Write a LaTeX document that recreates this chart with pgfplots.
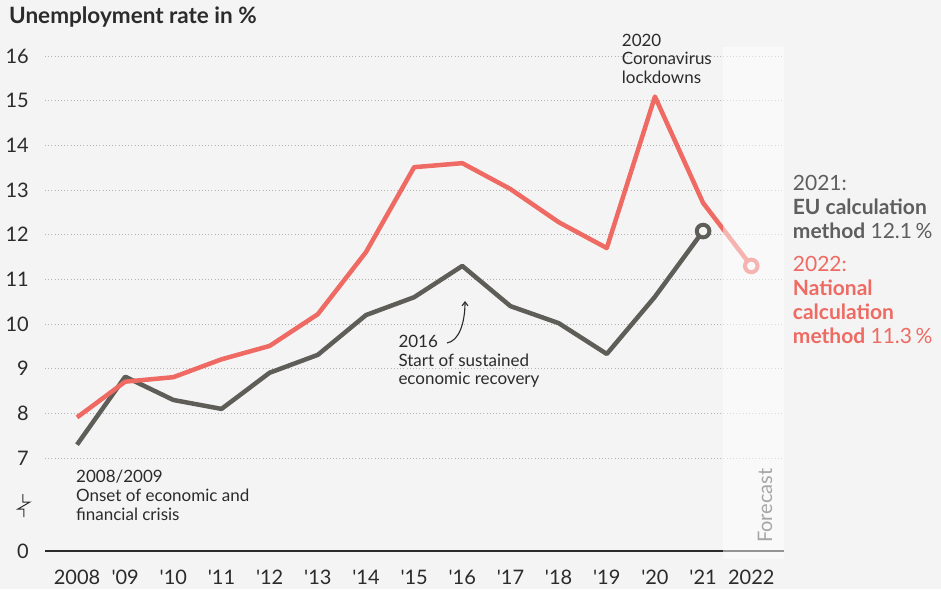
\documentclass[border=0pt]{standalone}
\usepackage{fontspec}
\setmainfont{Lato}
\newfontfamily\plainfont{Lato}
\usepackage{pgfplots}
\pgfplotsset{compat=1.18}
\usetikzlibrary{arrows.meta}
\definecolor{bg}{HTML}{F4F4F4}
\definecolor{fcbg}{HTML}{F9F9F9}
\definecolor{myred}{HTML}{EE6A62}
\definecolor{mypink}{HTML}{F6B4B0}
\definecolor{mygray}{HTML}{5E5D58}
\definecolor{txt}{HTML}{2B2B2B}
\definecolor{gridc}{HTML}{B4B4B4}
\definecolor{labgray}{HTML}{5E5E5E}
\begin{document}
\begin{tikzpicture}[x=1pt,y=1pt]
\useasboundingbox (-45,-38) rectangle (896,551);
\fill[bg] (-45,-38) rectangle (896,551);
\begin{axis}[
  at={(0,0)}, anchor=south west,
  scale only axis, width=739pt, height=504pt,
  xmin=2007.335, xmax=2022.68, ymin=4.92, ymax=16.2,
  axis line style={draw=none}, tick style={draw=none},
  xtick={2008,2009,2010,2011,2012,2013,2014,2015,2016,2017,2018,2019,2020,2021,2022},
  xticklabels={2008,'09,'10,'11,'12,'13,'14,'15,'16,'17,'18,'19,'20,'21,2022},
  ytick={4.92,7,8,9,10,11,12,13,14,15,16},
  yticklabels={0,7,8,9,10,11,12,13,14,15,16},
  ymajorgrids,
  grid style={gridc, line width=0.8pt, dash pattern=on 0.8pt off 2.4pt},
  xticklabel style={font=\plainfont\fontsize{20}{24}\selectfont, text=txt, anchor=base, inner sep=0pt, yshift=-33pt},
  yticklabel style={font=\plainfont\fontsize{20}{24}\selectfont, text=txt, anchor=east, inner sep=0pt, xshift=-16pt},
  clip=false,
]
\addplot[mygray, line width=4.5pt, line join=round] coordinates {
 (2008,7.3)(2009,8.82)(2010,8.3)(2011,8.1)(2012,8.91)(2013,9.31)(2014,10.2)
 (2015,10.6)(2016,11.3)(2017,10.4)(2018,10.02)(2019,9.33)(2020,10.61)(2021,12.08)};
\addplot[myred, line width=4.5pt, line join=round] coordinates {
 (2008,7.91)(2009,8.71)(2010,8.81)(2011,9.21)(2012,9.51)(2013,10.22)(2014,11.61)
 (2015,13.51)(2016,13.6)(2017,13.02)(2018,12.28)(2019,11.7)(2020,15.09)(2021,12.71)(2022,11.3)};
\addplot[only marks, mark=*, mark size=6.3pt, mark options={fill=bg, draw=mygray, line width=4pt}] coordinates {(2021,12.08)};
\draw[color=txt, line width=1.5pt] (rel axis cs:0,0) -- (rel axis cs:1,0);
\fill[white, opacity=0.5] (axis cs:2021.42,16.2) rectangle ([yshift=-8pt]axis cs:2022.68,4.92);
\addplot[only marks, mark=*, mark size=6.3pt, mark options={fill=fcbg, draw=mypink, line width=4pt}] coordinates {(2022,11.3)};
\end{axis}
% y-axis break symbol
\draw[color=txt, line width=1pt] (-22,57)--(-22,49)--(-15,49)--(-27,42)--(-21,42)--(-21,34);
% title
\node[anchor=base west, inner sep=0, font=\fontsize{22.5}{26}\selectfont\bfseries, text=txt] at (-36,527) {Unemployment rate in \%};
% annotations
\begin{scope}[every node/.style={anchor=base west, inner sep=0, font=\fontsize{17}{20}\selectfont, text=txt}]
\node at (576.7,504.3) {2020};
\node at (576.7,486) {Coronavirus};
\node at (576.7,467.7) {lockdowns};
\node at (353.3,203.3) {2016};
\node at (353.3,184.3) {Start of sustained};
\node at (353.3,166) {economic recovery};
\node at (31,68.7) {2008/2009};
\node at (31,50) {Onset of economic and};
\node at (31,31) {financial crisis};
\end{scope}
\draw[-{Straight Barb[length=4pt,width=6pt]}, color=txt, line width=1.1pt] (402,208) .. controls (414,210) and (420,228) .. (420,250);
% right labels
\begin{scope}[every node/.style={anchor=base west, inner sep=0, font=\fontsize{21}{25}\selectfont}]
\node[text=labgray] at (747.7,360) {2021:};
\node[text=labgray] at (747.7,336) {\bfseries EU calculation};
\node[text=labgray] at (747.7,312.7) {\textbf{method} 12.1\,\%};
\node[text=myred] at (747.7,279.3) {2022:};
\node[text=myred] at (747.7,255) {\bfseries National};
\node[text=myred] at (747.7,231) {\bfseries calculation};
\node[text=myred] at (747.7,207.7) {\textbf{method} 11.3\,\%};
\end{scope}
\node[rotate=90, anchor=base west, inner sep=0, font=\fontsize{20}{24}\selectfont, text=black!35] at (727,8) {Forecast};
\end{tikzpicture}
\end{document}
